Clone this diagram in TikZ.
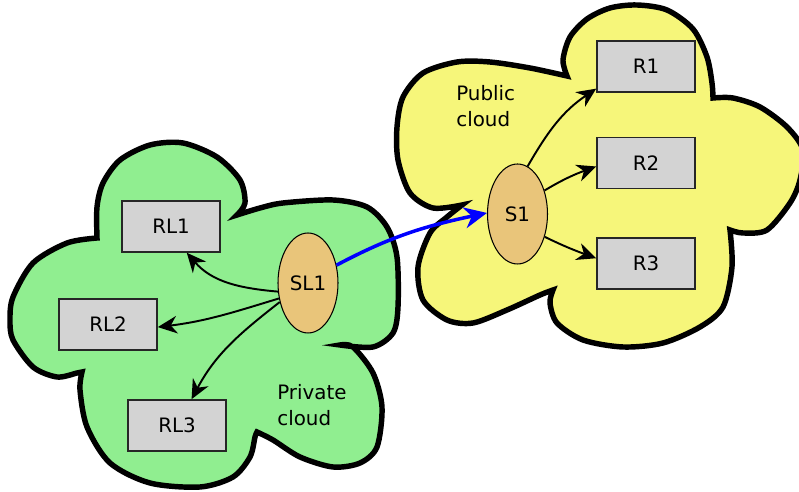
\documentclass[tikz,border=0pt]{standalone}
\usepackage{fontspec}
\setmainfont{DejaVu Sans}
\usetikzlibrary{shapes.geometric,arrows.meta}

\definecolor{privgreen}{RGB}{144,238,144}
\definecolor{pubyellow}{RGB}{246,246,122}
\definecolor{sitefill}{RGB}{233,197,122}
\definecolor{boxgray}{RGB}{211,211,211}

\begin{document}
\begin{tikzpicture}[x=0.02cm, y=-0.02cm,
        font=\fontsize{11.3}{14.5}\selectfont,
        cloudline/.style={line width=3.1pt},
        res/.style={rectangle, draw=black!85, line width=0.9pt, fill=boxgray,
                    minimum width=1.96cm, minimum height=1.02cm},
        site/.style={ellipse, draw, line width=0.6pt, fill=sitefill,
                     minimum width=1.2cm, minimum height=2cm, inner sep=0pt},
        link/.style={-{Stealth[length=11pt,width=10pt]}, line width=1.1pt},
        uplink/.style={-{Stealth[length=13pt,width=12pt]}, line width=2pt, blue}]
    \useasboundingbox (0,0) rectangle (799,492);

    % public cloud
    \draw[cloudline, fill=pubyellow]
        plot[smooth] coordinates {(462,205) (433,208) (410,193) (398,160) (397,127) (403,97) (423,73) (457,62) (490,62) (530,68) (567,76)}
        -- plot[smooth] coordinates {(567,76) (563,60) (570,37) (587,19) (610,8) (637,5) (667,10) (693,29) (707,57) (712,83) (713,98)}
        -- plot[smooth] coordinates {(713,98) (733,98) (760,107) (787,127) (803,150) (800,180) (790,203) (767,230) (743,233) (730,230)}
        -- plot[smooth] coordinates {(730,230) (732,267) (723,307) (700,327) (663,343) (623,347) (583,340) (557,323) (550,303) (553,290)}
        -- plot[smooth] coordinates {(553,290) (540,295) (507,310) (473,323) (447,320) (423,300) (418,267) (430,233) (447,217) (462,205)}
        -- cycle;

    % private cloud
    \draw[cloudline, fill=privgreen]
        plot[smooth] coordinates {(97,238) (97,207) (103,183) (120,160) (150,145) (183,143) (217,157) (240,180) (245,203) (237,215)}
        -- plot[smooth] coordinates {(237,215) (260,208) (283,203) (333,200) (367,207) (387,227) (397,257) (398,307) (393,333) (373,347) (340,345)}
        -- plot[smooth] coordinates {(340,345) (353,347) (373,373) (382,407) (377,447) (360,463) (333,467) (300,457) (273,440) (257,432)}
        -- plot[smooth] coordinates {(257,432) (255,437) (250,457) (233,477) (200,487) (150,483) (110,463) (87,427) (80,390) (82,372)}
        -- plot[smooth] coordinates {(82,372) (77,373) (57,377) (33,367) (13,340) (10,320) (13,297) (33,263) (67,243) (97,238)}
        -- cycle;

    \node[align=left, anchor=west, inner sep=0pt] (privlabel) at (277,405) {Private\\cloud};
    \node[align=left, anchor=west, inner sep=0pt] (publabel) at (456,106) {Public\\cloud};

    % local side
    \node[res] (RL1) at (171,226.5) {RL1};
    \node[res] (RL2) at (108,324.5) {RL2};
    \node[res] (RL3) at (177,425.5) {RL3};
    \node[site] (SL1) at (308,283) {SL1};

    % remote side
    \node[site] (S1) at (517.5,214) {S1};
    \node[res] (R1) at (646,66.5) {R1};
    \node[res] (R2) at (646,163) {R2};
    \node[res] (R3) at (646,263.5) {R3};

    \draw[link] (SL1.196) to[out=175, in=-49] (RL1.-59);
    \draw[link] (SL1.208) to[out=197, in=7] (RL2.-3);
    \draw[link] (SL1.214) to[out=218, in=62] (RL3.61);

    \draw[link] (S1.78) to[out=60, in=214] (R1.204);
    \draw[link] (S1.41) to[out=31, in=200] (R2.184);
    \draw[link] (S1.-40) to[out=-26, in=160] (R3.174);

    \draw[uplink] (SL1.32) to[out=28, in=192] (S1.178);
\end{tikzpicture}
\end{document}
